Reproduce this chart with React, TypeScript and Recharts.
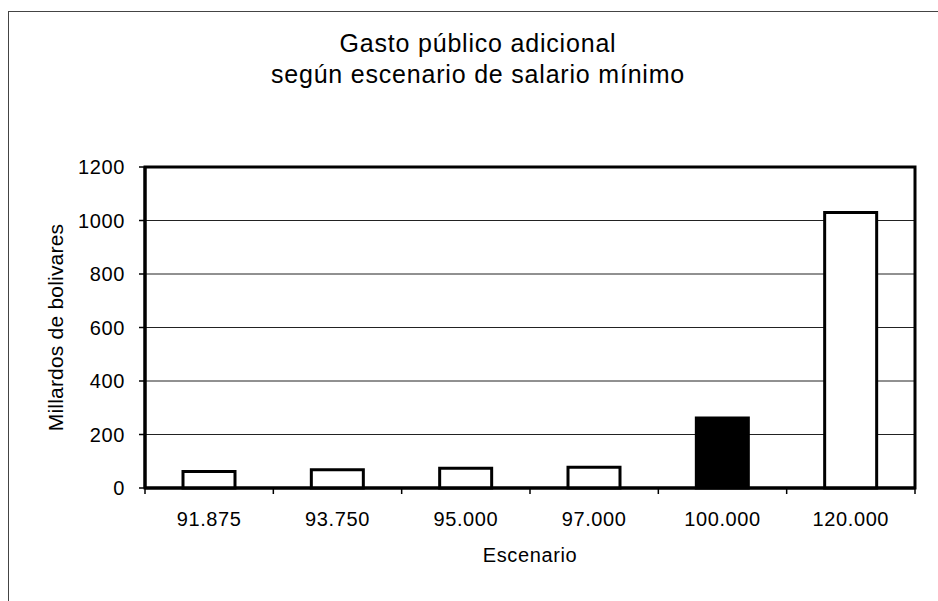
import React from 'react';
import { BarChart, Bar, XAxis, YAxis, CartesianGrid, ReferenceArea, Cell, Label } from 'recharts';

// ---- data ----
const categories: string[] = ['91.875', '93.750', '95.000', '97.000', '100.000', '120.000'];
const gasto: number[] = [62, 68, 74, 78, 262, 1030];
const highlighted: string[] = ['100.000'];
const yTicks: number[] = [0, 200, 400, 600, 800, 1000, 1200];
const titleLines: string[] = ['Gasto público adicional', 'según escenario de salario mínimo'];
const yLabel = 'Millardos de bolivares';
const xLabel = 'Escenario';

const data = categories.map((c, i) => ({ escenario: c, gasto: gasto[i] }));

// ---- layout ----
const W = 938;
const H = 601;
const MARGIN = { top: 167, right: 23, bottom: 33, left: 0 };
const YAXIS_W = 145;
const XAXIS_H = 80;
const PLOT_W = W - MARGIN.left - MARGIN.right - YAXIS_W;
const FONT = '"Liberation Sans", Arial, Helvetica, sans-serif';

const XTick = (props: any) => {
  const { x, y, payload, index } = props;
  const band = PLOT_W / categories.length;
  return (
    <g>
      <line x1={x - band / 2} x2={x - band / 2} y1={y} y2={y + 6} stroke="#000" strokeWidth={1.5} />
      {index === categories.length - 1 && (
        <line x1={x + band / 2} x2={x + band / 2} y1={y} y2={y + 6} stroke="#000" strokeWidth={1.5} />
      )}
      <text
        x={x}
        y={y + 38}
        textAnchor="middle"
        fill="#000"
        style={{ fontFamily: FONT, fontSize: 20, letterSpacing: 0.6 }}
      >
        {payload.value}
      </text>
    </g>
  );
};

const YLabelContent = (props: any) => {
  const vb = props.viewBox || { x: 0, y: 0, width: 0, height: 0 };
  const cx = vb.x + 63;
  const cy = vb.y + vb.height / 2;
  return (
    <text
      x={cx}
      y={cy}
      transform={`rotate(-90 ${cx} ${cy})`}
      textAnchor="middle"
      fill="#000"
      style={{ fontFamily: FONT, fontSize: 21, letterSpacing: 0.2 }}
    >
      {yLabel}
    </text>
  );
};

const XLabelContent = (props: any) => {
  const vb = props.viewBox || { x: 0, y: 0, width: 0, height: 0 };
  return (
    <text
      x={vb.x + vb.width / 2}
      y={vb.y + 74}
      textAnchor="middle"
      fill="#000"
      style={{ fontFamily: FONT, fontSize: 20, letterSpacing: 0.6 }}
    >
      {xLabel}
    </text>
  );
};

export default function App() {
  return (
    <div
      style={{
        position: 'absolute',
        left: 0,
        top: 0,
        width: W,
        height: H,
        overflow: 'hidden',
        background: '#fff',
      }}
    >
      <div
        style={{
          position: 'absolute',
          left: 8,
          top: 11,
          width: W,
          height: H,
          border: '1px solid #444',
          boxSizing: 'border-box',
        }}
      />
      <div
        style={{
          position: 'absolute',
          left: 228,
          top: 28,
          width: 500,
          textAlign: 'center',
          fontFamily: FONT,
          fontSize: 25,
          lineHeight: '31px',
          letterSpacing: 0.8,
          color: '#000',
        }}
      >
        {titleLines.map((t) => (
          <div key={t}>{t}</div>
        ))}
      </div>
      <div style={{ position: 'absolute', left: 0, top: 0 }}>
        <BarChart width={W} height={H} data={data} margin={MARGIN}>
          <CartesianGrid vertical={false} stroke="#222" strokeWidth={1} />
          <XAxis
            dataKey="escenario"
            height={XAXIS_H}
            tickLine={false}
            tickSize={0}
            tickMargin={0}
            axisLine={{ stroke: '#000', strokeWidth: 3 }}
            tick={<XTick />}
            interval={0}
            label={<Label content={XLabelContent} />}
          />
          <YAxis
            width={YAXIS_W}
            domain={[0, 1200]}
            ticks={yTicks}
            interval={0}
            tickSize={6}
            tickMargin={14}
            tickLine={{ stroke: '#000', strokeWidth: 1.5 }}
            axisLine={{ stroke: '#000', strokeWidth: 3 }}
            tick={{ fill: '#000', fontFamily: FONT, fontSize: 20, letterSpacing: 0.6 }}
            label={<Label content={YLabelContent} />}
          />
          <Bar dataKey="gasto" fill="#fff" stroke="#000" strokeWidth={3} barSize={52} isAnimationActive={false}>
            {data.map((d) => (
              <Cell key={d.escenario} fill={highlighted.includes(d.escenario) ? '#000' : '#fff'} />
            ))}
          </Bar>
          <ReferenceArea y1={0} y2={1200} fill="none" fillOpacity={0} stroke="#000" strokeWidth={3} ifOverflow="visible" />
        </BarChart>
      </div>
    </div>
  );
}
